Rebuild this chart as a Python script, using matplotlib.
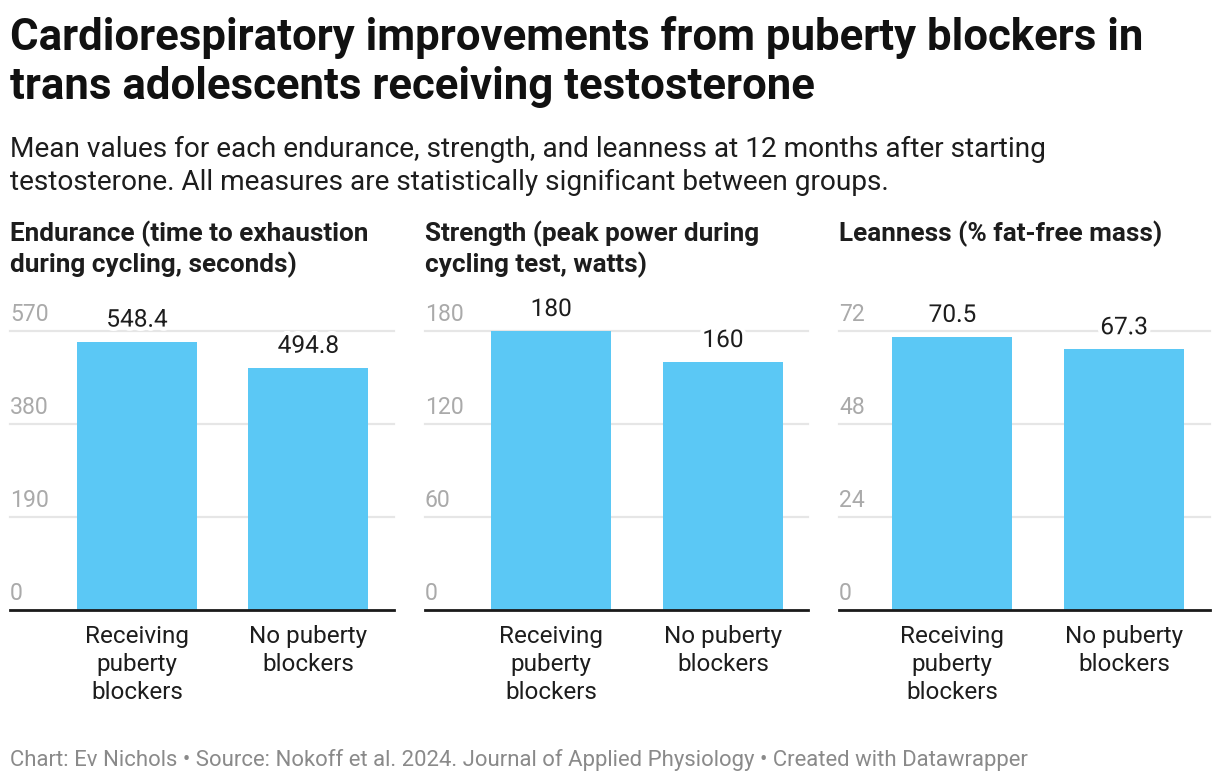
#!/usr/bin/env python3
"""Cardiorespiratory improvements from puberty blockers, three small bar panels."""

import matplotlib
matplotlib.use('Agg')
import matplotlib.pyplot as plt
import matplotlib.patheffects as pe
from matplotlib.transforms import blended_transform_factory

plt.rcParams['font.family'] = ['Roboto', 'DejaVu Sans']

W, H = 1220, 784

title_lines = ['Cardiorespiratory improvements from puberty blockers in',
               'trans adolescents receiving testosterone']
subtitle_lines = ['Mean values for each endurance, strength, and leanness at 12 months after starting',
                  'testosterone. All measures are statistically significant between groups.']
footer = ('Chart: Ev Nichols \u2022 Source: Nokoff et al. 2024. Journal of Applied Physiology '
          '\u2022 Created with Datawrapper')

groups = [['Receiving', 'puberty', 'blockers'], ['No puberty', 'blockers']]

panel_titles = [['Endurance (time to exhaustion', 'during cycling, seconds)'],
                ['Strength (peak power during', 'cycling test, watts)'],
                ['Leanness (% fat-free mass)']]
endurance = [548.4, 494.8]
strength = [180, 160]
leanness = [70.5, 67.3]
value_labels = [['548.4', '494.8'], ['180', '160'], ['70.5', '67.3']]
ticks = [[0, 190, 380, 570], [0, 60, 120, 180], [0, 24, 48, 72]]

BAR = '#5bc8f5'
GRID = '#e6e6e6'
TICK = '#aaaaaa'
TEXT = '#1d1d1d'


def fx(x):
    return x / W


def fy(y):
    return 1 - y / H


fig = plt.figure(figsize=(W / 100, H / 100), dpi=100)

for i, line in enumerate(title_lines):
    fig.text(fx(10), fy(50 + 49 * i), line, fontsize=31.5, fontweight='bold',
             color='#111111', va='baseline', ha='left')
for i, line in enumerate(subtitle_lines):
    fig.text(fx(10), fy(157 + 33 * i), line, fontsize=20.2, color=TEXT,
             va='baseline', ha='left')
fig.text(fx(10), fy(766), footer, fontsize=15.9, color='#8a8a8a', va='baseline', ha='left')

# pixel extents of each plot area and the x range that puts the bars in place
panel_px = [(10, 394), (425, 808), (839, 1210)]
xlims = [(-0.74, 1.50), (-0.735, 1.495), (-0.66, 1.50)]
series = [endurance, strength, leanness]
top, base = 331, 610
halo = [pe.withStroke(linewidth=6, foreground='white')]

for k, values in enumerate(series):
    left, right = panel_px[k]
    ax = fig.add_axes([fx(left), fy(base), fx(right - left), (base - top) / H])
    ymax = ticks[k][-1]
    ax.set_xlim(*xlims[k])
    ax.set_ylim(0, ymax)
    for t in ticks[k][1:]:
        ax.axhline(t, color=GRID, linewidth=1.6, zorder=0, clip_on=False)
    ax.bar(range(len(values)), values, width=0.70, color=BAR, zorder=2)
    for spine in ('top', 'right', 'left'):
        ax.spines[spine].set_visible(False)
    ax.spines['bottom'].set_color('#1a1a1a')
    ax.spines['bottom'].set_linewidth(2)
    ax.spines['bottom'].set_zorder(3)
    ax.set_xticks([])
    ax.set_yticks([])

    yscale = (base - top) / ymax
    for t in ticks[k]:
        fig.text(fx(left), fy(base - t * yscale - 10), f'{t}', fontsize=16.6,
                 color=TICK, va='baseline', ha='left')

    trans = blended_transform_factory(ax.transData, fig.transFigure)
    for j, v in enumerate(values):
        ybar = base - v * yscale
        ax.text(j, fy(ybar - 15), value_labels[k][j], transform=trans, fontsize=17.6,
                color=TEXT, ha='center', va='baseline', zorder=4, path_effects=halo)
        for n, line in enumerate(groups[j]):
            ax.text(j, fy(643 + 28 * n), line, transform=trans, fontsize=17.5,
                    color=TEXT, ha='center', va='baseline')

    for n, line in enumerate(panel_titles[k]):
        fig.text(fx(left), fy(241 + 31 * n), line, fontsize=18.8, fontweight='bold',
                 color=TEXT, va='baseline', ha='left')

fig.savefig('out.png', dpi=100)
